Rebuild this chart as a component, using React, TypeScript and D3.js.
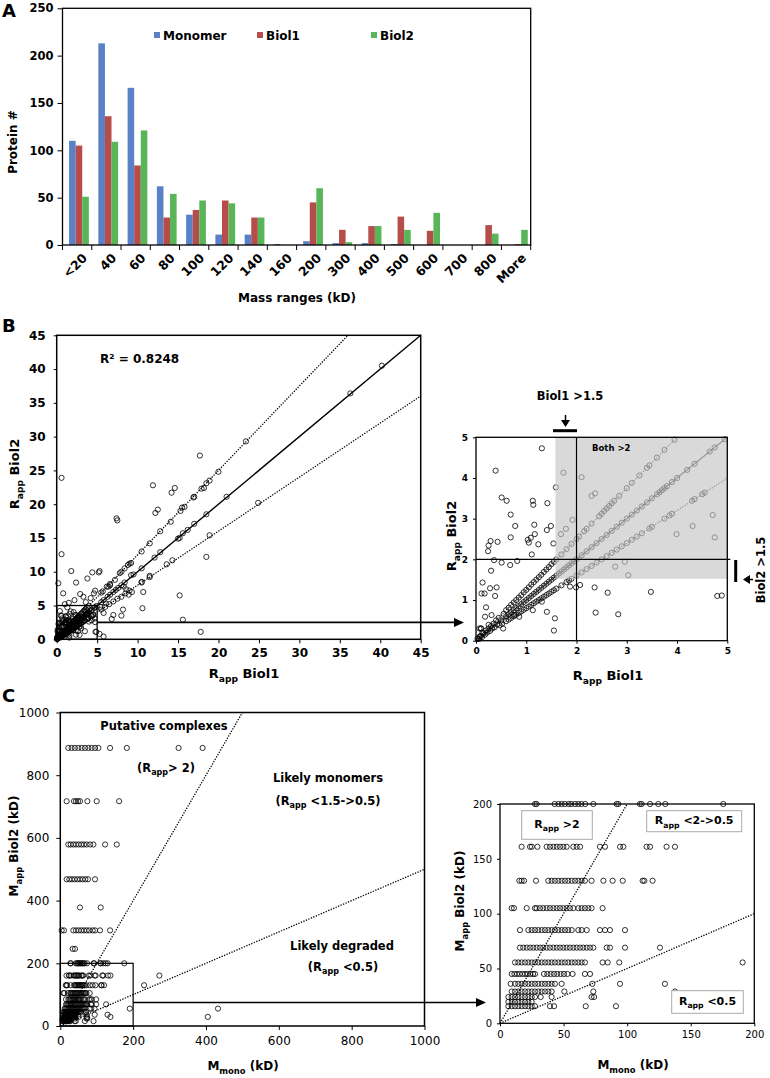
import React, { useEffect, useRef } from 'react';
import * as d3 from 'd3';

// ---- panel A: protein number per mass range
const massRanges = ['<20', '40', '60', '80', '100', '120', '140', '160', '200', '300', '400', '500', '600', '700', '800', 'More'];
const monomerCounts = [110, 213, 166, 62, 32, 11, 11, 1, 4, 2, 2, 1, 0, 0, 0, 0];
const biol1Counts = [105, 136, 84, 29, 37, 47, 29, 0, 45, 16, 20, 30, 15, 0, 21, 1];
const biol2Counts = [51, 109, 121, 54, 47, 44, 29, 0, 60, 3, 20, 16, 34, 0, 12, 16];
const seriesNames = ['Monomer', 'Biol1', 'Biol2'];
const seriesColors = ['#5a80c6', '#b54e4b', '#58b558'];
const countTicks = [0, 50, 100, 150, 200, 250];

// ---- panel B: Rapp Biol1 vs Rapp Biol2
const rappTicks = [0, 5, 10, 15, 20, 25, 30, 35, 40, 45];
const rappZoomTicks = [0, 1, 2, 3, 4, 5];
const rappGuideSlopes = [1.25, 1, 0.8];
const rappGuideDotted = [true, false, true];
const rappPoints: [number, number][] = [
  // near origin
  [0.03, 0.05], [0.06, 0.04], [0.08, 0.1], [0.1, 0.12], [0.12, 0.09], [0.15, 0.18], [0.18, 0.15], [0.2, 0.25],
  [0.22, 0.2], [0.25, 0.3], [0.28, 0.24], [0.3, 0.36], [0.32, 0.3], [0.35, 0.42], [0.37, 0.33], [0.4, 0.5],
  [0.42, 0.4], [0.45, 0.56], [0.47, 0.38], [0.5, 0.5], [0.52, 0.42], [0.55, 0.66], [0.07, 0.3], [0.1, 0.3],
  [0.25, 0.39], [0.18, 0.59], [0.31, 0.63], [0.2, 0.82], [0.54, 0.3], [0.13, 0.2],
  // along 1.25
  [0.6, 0.75], [0.65, 0.81], [0.7, 0.88], [0.75, 0.94], [0.8, 1.0], [0.85, 1.06], [0.9, 1.12], [0.95, 1.19],
  [1.0, 1.25], [1.05, 1.31], [1.1, 1.38], [1.15, 1.44], [1.2, 1.5], [1.25, 1.56], [1.3, 1.62], [1.35, 1.69],
  [1.4, 1.75], [1.45, 1.81], [1.5, 1.88], [1.55, 1.94], [1.6, 2.0], [1.7, 2.12], [1.8, 2.25], [1.9, 2.38],
  [2.0, 2.5], [2.05, 2.56], [2.15, 2.69], [2.2, 2.75], [2.3, 2.88], [2.45, 3.06], [2.5, 3.12], [2.55, 3.19],
  [2.6, 3.25], [2.65, 3.31], [2.7, 3.38], [2.75, 3.44], [2.85, 3.56], [3.0, 3.75], [3.1, 3.88], [3.25, 4.06],
  [3.4, 4.25], [3.45, 4.31], [3.6, 4.5], [3.75, 4.69], [3.95, 4.94],
  // along 1
  [0.6, 0.6], [0.65, 0.65], [0.7, 0.7], [0.75, 0.75], [0.8, 0.8], [0.85, 0.85], [0.9, 0.9], [0.95, 0.95],
  [1.0, 1.0], [1.05, 1.05], [1.1, 1.1], [1.15, 1.15], [1.2, 1.2], [1.25, 1.25], [1.3, 1.3], [1.35, 1.35],
  [1.4, 1.4], [1.45, 1.45], [1.5, 1.5], [1.55, 1.55], [1.6, 1.6], [1.65, 1.65], [1.7, 1.7], [1.75, 1.75],
  [1.8, 1.8], [1.85, 1.85], [1.9, 1.9], [1.95, 1.95], [2.0, 2.0], [2.1, 2.1], [2.2, 2.2], [2.3, 2.3],
  [2.4, 2.4], [2.5, 2.5], [2.6, 2.6], [2.7, 2.7], [2.8, 2.8], [2.9, 2.9], [3.0, 3.0], [3.1, 3.1], [3.2, 3.2],
  [3.3, 3.3], [3.4, 3.4], [3.5, 3.5], [3.6, 3.6], [3.65, 3.65], [3.7, 3.7], [3.75, 3.75], [3.8, 3.8],
  [3.9, 3.9], [4.0, 4.0], [4.2, 4.2], [4.35, 4.35], [4.65, 4.65], [4.75, 4.75], [4.95, 4.95],
  // along 0.8
  [0.6, 0.48], [0.65, 0.52], [0.7, 0.56], [0.75, 0.6], [0.8, 0.64], [0.85, 0.68], [0.9, 0.72], [0.95, 0.76],
  [1.0, 0.8], [1.05, 0.84], [1.1, 0.88], [1.15, 0.92], [1.2, 0.96], [1.25, 1.0], [1.3, 1.04], [1.35, 1.08],
  [1.4, 1.12], [1.45, 1.16], [1.5, 1.2], [1.55, 1.24], [1.6, 1.28], [1.7, 1.36], [1.8, 1.44], [1.85, 1.48],
  [1.9, 1.52], [2.0, 1.6], [2.1, 1.68], [2.2, 1.76], [2.3, 1.84], [2.4, 1.92], [2.5, 2.0], [2.6, 2.08],
  [2.7, 2.16], [2.8, 2.24], [2.9, 2.32], [3.0, 2.4], [3.1, 2.48], [3.2, 2.56], [3.3, 2.64], [3.45, 2.76],
  [3.5, 2.8], [3.75, 3.0], [3.85, 3.08], [3.9, 3.12], [4.3, 3.44], [4.35, 3.48], [4.5, 3.6], [4.55, 3.64],
  // scattered below 5
  [1.31, 4.73], [0.39, 4.18], [1.74, 4.13], [2.1, 4.02], [1.59, 3.77], [0.51, 3.52], [0.61, 3.44], [1.13, 3.44],
  [1.14, 3.34], [1.42, 3.38], [2.3, 3.56], [2.37, 3.62], [0.69, 3.1], [0.78, 2.82], [1.16, 2.85], [1.41, 2.72],
  [1.49, 2.82], [1.79, 2.75], [1.69, 2.62], [1.92, 2.97], [1.17, 2.62], [1.03, 2.48], [1.05, 2.41], [1.09, 2.53],
  [1.24, 2.37], [0.69, 2.54], [0.29, 2.45], [0.43, 2.43], [0.25, 2.34], [0.24, 2.2], [1.54, 2.39], [1.11, 2.12],
  [0.36, 1.98], [0.51, 1.92], [0.68, 1.86], [0.82, 1.96], [0.3, 1.72], [0.13, 1.43], [0.11, 1.16], [0.17, 1.16],
  [0.28, 1.29], [0.41, 1.31], [0.38, 1.1], [0.1, 0.3], [0.07, 0.1], [1.55, 0.25], [1.57, 0.55], [1.41, 0.71],
  [1.31, 0.96], [1.13, 0.75], [0.86, 0.59], [2.38, 0.69], [2.83, 0.65], [2.36, 1.31], [2.62, 1.18], [3.03, 1.61],
  [2.96, 1.94], [2.77, 1.82], [3.48, 1.2], [4.89, 1.11], [3.99, 2.62], [4.31, 2.82], [4.75, 2.54], [4.71, 3.09],
  [1.87, 1.33], [2.07, 1.37], [1.99, 1.31], [0.76, 0.63],
  // above 5 (main panel only)
  [0.6, 23.9], [0.6, 12.6], [0.2, 8.3], [0.8, 6.8], [1.8, 10.1], [2.4, 8.4], [2.9, 6.7], [1.5, 5.4], [3.8, 9],
  [5.2, 9.9], [5.3, 10.1], [4.75, 7.2], [4.6, 6.8], [6.2, 7.8], [7.4, 17.9], [7.5, 17.6], [11.9, 22.8],
  [12.2, 18.7], [12.5, 19.2], [14.2, 21.7], [14.6, 22.4], [17.7, 27.2], [20, 24.8], [18.9, 23.5], [18.5, 23.1],
  [17.9, 22.3], [18.2, 22.4], [17, 21.1], [16.9, 21], [15.8, 19.6], [15.5, 19.5], [15.3, 19], [15.2, 15],
  [15, 14.9], [15.6, 15.7], [16.2, 16.2], [17, 17.1], [18.5, 18.5], [21, 21.1], [23.4, 29.3], [36.3, 36.4],
  [40.2, 40.5], [24.9, 20.2], [18.9, 15.4], [18.5, 12.2], [14.3, 11.7], [13.6, 11.1], [12.8, 12.9], [12.1, 12.1],
  [12.8, 16], [14.1, 17.4], [10.5, 13], [11.5, 14.2], [11.5, 9.4], [10.5, 8.5], [10.7, 7], [10.6, 4.6],
  [15.2, 6.5], [15.6, 2.9], [17.8, 1.1], [9.2, 9.5], [9.5, 9.6], [9, 11.2], [9.2, 11.3], [8.3, 7.8], [8.6, 7.4],
  [8, 6.3], [8.9, 6.6], [9.3, 7], [8.2, 4.4], [8, 3.5], [7, 3.6], [6.8, 3], [7.8, 9.8], [8, 10], [7.2, 8.8],
  [6.4, 7.8], [6.6, 8], [5.7, 7.1], [5.5, 6.9], [6.1, 5.3], [5.8, 3.9], [5.4, 4.8], [4.8, 1.1], [5.3, 0.8],
  [5.8, 0.4], [6.6, 8.2], [8.4, 10.5], [8.8, 11], [5.5, 5.5], [5.8, 5.8], [6.3, 6.3], [6.6, 6.6], [7, 7],
  [7.3, 7.3], [7.6, 7.6], [8, 8], [8.4, 8.4], [10.5, 10.5], [5.5, 4.4], [6, 4.8], [6.5, 5.2], [7, 5.6],
  [7.5, 6], [8.5, 6.8], [9, 7.2], [10.5, 8.4], [11.5, 9.2], [4.4, 9.9], [3.3, 6.3], [2.2, 5.8], [1, 5.2],
  [3.6, 5.5], [4.2, 6.1],
];

// ---- panel C: Mmono vs Mapp Biol2 (kD), grouped by apparent mass level
const mappTicks = [0, 200, 400, 600, 800, 1000];
const mappZoomTicks = [0, 50, 100, 150, 200];
const mappGuideSlopes = [2, 0.5];
const mappLevels = [887, 717, 579, 468, 378, 305, 246, 200, 161, 130, 105, 85, 69, 55.5, 45, 36, 29, 24, 19.5, 15.6];
const mmonoByLevel = [
  [22, 31, 40, 49.5, 58.7, 67.9, 77, 86, 95.4, 104.6, 136.7, 182.6, 324.8, 390.8],
  [17.4, 37.6, 43, 48.6, 54, 74.3, 100, 161.5],
  [22, 28.4, 35.8, 43, 50.5, 57.8, 65, 72.5, 81.7, 90.8, 123, 155],
  [17.4, 24.8, 32, 39.4, 46.8, 54, 61.5, 68.8, 76, 95.4],
  [54, 111],
  [3.7, 10, 35.8, 43, 50.5, 57.8, 65, 72.5, 79.8, 89, 95.4, 109, 136.7],
  [34, 40.4],
  [27.5, 28.8, 43, 46, 48.5, 51, 54, 56, 59, 61.6, 64, 67, 73.4, 91.7, 93, 110, 111.4, 118, 124.5, 130, 175.6],
  [17, 23.6, 25, 29.4, 36.7, 39.3, 42, 44.6, 47.2, 49.8, 52.4, 57.7, 60.3, 63, 78.6, 82.6, 94.4, 97, 115.3, 118, 131, 137.6, 272],
  [15.2, 17, 18.9, 28.3, 38, 40.6, 43.2, 45.9, 48.5, 51.1, 53.7, 56.4, 59, 61.6, 64.2, 66.8, 72, 81.3, 88.6, 96.5, 112.2, 113.5, 120, 230],
  [9.2, 11, 21, 27.5, 28.8, 31.4, 34, 36.7, 39.3, 42, 44.6, 47.2, 49.8, 52.4, 55, 57.7, 61.6, 64.2, 66.8, 69.5, 72, 80.7],
  [15.7, 22.3, 24.9, 27.5, 30.1, 32.8, 35.4, 38, 40.6, 43.2, 45.9, 48.5, 51.1, 53.7, 56.4, 61.6, 64.2, 68.2, 78.6, 82.6, 86.5, 98.3],
  [15.7, 18.3, 21, 23.6, 26.2, 28.8, 31.5, 34, 36.7, 39.3, 42, 44.6, 47.2, 49.8, 52.4, 55, 57.7, 60.3, 63, 65.5, 68.2, 70.8, 73.4, 83.9, 86.5, 98.3, 125.8],
  [11.8, 14.4, 17, 19.7, 22.3, 24.9, 27.5, 30.1, 32.8, 35.4, 38, 40.6, 43.2, 45.9, 48.5, 51.1, 53.7, 56.4, 59, 61.6, 64.2, 66.8, 80.7, 84.7, 93.8, 190.8, 433],
  [9.2, 11.3, 13.4, 15.5, 17.6, 19.7, 21.8, 23.9, 26, 27.5, 34.6, 37.2, 39.8, 42.5, 45, 47.7, 50.3, 53, 57.1, 66.8, 70.8],
  [8.4, 11.8, 14.4, 17, 19.7, 22.3, 24.9, 27.5, 30.1, 32.8, 35.4, 38, 40.6, 43.2, 48.5, 72.6, 94.4, 129.7],
  [9.2, 11.8, 14.4, 17, 19.7, 22.3, 24.9, 27.5, 30.1, 32.8, 35.4, 38, 40.6, 50.6, 73.4, 137.6, 405],
  [6.6, 9.2, 11.8, 14.4, 17, 19.7, 22.3, 24.9, 27.5, 32, 40.6, 72, 74],
  [6.6, 9.2, 11.8, 14.4, 17, 19.7, 22.3, 24.9],
  [6.6, 9.2, 11.8, 14.4, 17, 19.7, 22.3, 24.9, 27.5, 39.3, 42.5, 67.4, 91.2],
];

const FONT = 'DejaVu Sans, Verdana, sans-serif';
const fmt = d3.format('d');

const styleAxis = (g, size, weight) => {
  g.select('.domain').remove();
  g.selectAll('text').attr('font-family', FONT).attr('font-size', size).attr('font-weight', weight).attr('fill', '#000');
  g.selectAll('line').attr('stroke', '#000');
};

// text with a subscript part, e.g. R_app Biol1
const subLabel = (g, x, y, main, sub, rest, size, rotate = 0) => {
  const t = g.append('text')
    .attr('transform', `translate(${x},${y}) rotate(${rotate})`)
    .attr('text-anchor', 'middle')
    .attr('font-family', FONT).attr('font-weight', 'bold').attr('font-size', size)
    .style('white-space', 'pre');
  t.append('tspan').text(main);
  t.append('tspan').attr('font-size', size * 0.7).attr('dy', size * 0.3).text(sub);
  t.append('tspan').attr('dy', -size * 0.3).text(rest);
  return t;
};

const label = (g, x, y, txt, size, opts: any = {}) =>
  g.append('text')
    .attr('transform', `translate(${x},${y}) rotate(${opts.rotate || 0})`)
    .attr('text-anchor', opts.anchor || 'middle')
    .attr('font-family', FONT).attr('font-weight', opts.weight || 'bold').attr('font-size', size)
    .text(txt);

const dots = (g, pts, x, y) =>
  g.append('g').selectAll('circle').data(pts).join('circle')
    .attr('cx', d => x(d[0])).attr('cy', d => y(d[1])).attr('r', 2.6)
    .attr('fill', 'none').attr('stroke', '#000').attr('stroke-width', 0.8);

const guide = (g, slope, max, x, y, dotted, color = '#000') => {
  const xe = Math.min(max, max / slope);
  g.append('line')
    .attr('x1', x(0)).attr('y1', y(0)).attr('x2', x(xe)).attr('y2', y(xe * slope))
    .attr('stroke', color).attr('stroke-width', dotted ? 1.3 : 1.4)
    .attr('stroke-dasharray', dotted ? '1.3 1.4' : null);
};

const frame = (g, x0, y0, x1, y1, w = 1.3) =>
  g.append('rect').attr('x', x0).attr('y', y1).attr('width', x1 - x0).attr('height', y0 - y1)
    .attr('fill', 'none').attr('stroke', '#000').attr('stroke-width', w);

const arrowTo = (g, x1, y, x2) => {
  g.append('line').attr('x1', x1).attr('y1', y).attr('x2', x2 - 8).attr('y2', y).attr('stroke', '#000').attr('stroke-width', 1.6);
  g.append('path').attr('d', `M${x2},${y}L${x2 - 10},${y - 4.5}L${x2 - 10},${y + 4.5}Z`).attr('fill', '#000');
};

const drawBars = (svg) => {
  const g = svg.append('g');
  const x = d3.scaleBand().domain(massRanges).range([62.5, 530.7]);
  const y = d3.scaleLinear().domain([0, 250]).range([245, 8.3]);
  const bw = x.bandwidth();
  const inner = d3.scaleBand().domain(seriesNames).range([0.225 * bw, 0.9 * bw]);
  const counts = [monomerCounts, biol1Counts, biol2Counts];

  seriesNames.forEach((name, i) => {
    g.append('g').selectAll('rect').data(massRanges).join('rect')
      .attr('x', d => x(d) + inner(name))
      .attr('y', (d, j) => y(counts[i][j]))
      .attr('width', inner.bandwidth())
      .attr('height', (d, j) => y(0) - y(counts[i][j]))
      .attr('fill', seriesColors[i]);
  });
  frame(g, 62.5, 245, 530.7, 8.3);

  const ya = g.append('g').attr('transform', 'translate(62.5,0)')
    .call(d3.axisLeft(y).tickValues(countTicks).tickFormat(fmt).tickSize(5).tickPadding(4));
  styleAxis(ya, 11.5, 'bold');

  // tick marks at category boundaries
  g.append('g').selectAll('line').data(d3.range(massRanges.length + 1)).join('line')
    .attr('x1', i => 62.5 + i * bw).attr('x2', i => 62.5 + i * bw)
    .attr('y1', 245).attr('y2', 250).attr('stroke', '#000');
  massRanges.forEach(c => {
    label(g, x(c) + bw / 2 + 6, 254, c, 12.5, { rotate: -45, anchor: 'end' }).attr('dy', '0.55em');
  });

  const legendX = [154, 257, 371];
  seriesNames.forEach((name, i) => {
    g.append('rect').attr('x', legendX[i]).attr('y', 32).attr('width', 6).attr('height', 6).attr('fill', seriesColors[i]);
    label(g, legendX[i] + 9, 40, name, 12, { anchor: 'start' });
  });

  label(g, 17, 142, 'Protein #', 12, { rotate: -90 });
  label(g, 297, 302, 'Mass ranges (kD)', 12);
  label(g, 2, 17, 'A', 18, { anchor: 'start' });
};

const drawRapp = (svg) => {
  const g = svg.append('g');
  // main panel
  const x = d3.scaleLinear().domain([0, 45]).range([56.7, 420.7]);
  const y = d3.scaleLinear().domain([0, 45]).range([639.3, 335.3]);
  rappGuideSlopes.forEach((s, i) => guide(g, s, 45, x, y, rappGuideDotted[i]));
  dots(g, rappPoints, x, y);
  frame(g, x(0), y(0), x(45), y(45), 1.5);
  g.append('rect').attr('x', x(0)).attr('y', y(5)).attr('width', x(5) - x(0)).attr('height', y(0) - y(5))
    .attr('fill', 'none').attr('stroke', '#000').attr('stroke-width', 1.3);
  arrowTo(g, x(5), y(2.5), 464);
  const xa = g.append('g').attr('transform', `translate(0,${y(0)})`)
    .call(d3.axisBottom(x).tickValues(rappTicks).tickFormat(fmt).tickSize(4).tickPadding(5));
  styleAxis(xa, 12, 'bold');
  const ya = g.append('g').attr('transform', `translate(${x(0)},0)`)
    .call(d3.axisLeft(y).tickValues(rappTicks).tickFormat(fmt).tickSize(3).tickPadding(8));
  styleAxis(ya, 12, 'bold');
  label(g, 100, 363, 'R² = 0.8248', 12, { anchor: 'start' });
  subLabel(g, 244, 678, 'R', 'app', ' Biol1', 13);
  subLabel(g, 19, 474, 'R', 'app', ' Biol2', 13, -90);
  label(g, 2, 332, 'B', 18, { anchor: 'start' });

  // zoomed panel 0-5
  const zx = d3.scaleLinear().domain([0, 5]).range([476, 727.3]);
  const zy = d3.scaleLinear().domain([0, 5]).range([640.7, 437.3]);
  g.append('rect').attr('x', zx(0)).attr('y', zy(5)).attr('width', zx(5) - zx(0)).attr('height', zy(0) - zy(5)).attr('fill', '#fff');
  rappGuideSlopes.forEach((s, i) => guide(g, s, 5, zx, zy, rappGuideDotted[i], '#555'));
  dots(g, rappPoints.filter(p => p[0] <= 5.05 && p[1] <= 5.05), zx, zy);
  g.append('rect').attr('x', zx(1.58)).attr('y', zy(5)).attr('width', zx(5) - zx(1.58)).attr('height', zy(1.52) - zy(5))
    .attr('fill', '#c4c4c4').attr('opacity', 0.65);
  g.append('line').attr('x1', zx(2)).attr('x2', zx(2)).attr('y1', zy(0)).attr('y2', zy(5)).attr('stroke', '#000').attr('stroke-width', 1.2);
  g.append('line').attr('x1', zx(0)).attr('x2', zx(5) + 3).attr('y1', zy(2)).attr('y2', zy(2)).attr('stroke', '#000').attr('stroke-width', 1.2);
  frame(g, zx(0), zy(0), zx(5), zy(5), 1.3);
  const zxa = g.append('g').attr('transform', `translate(0,${zy(0)})`)
    .call(d3.axisBottom(zx).tickValues(rappZoomTicks).tickFormat(fmt).tickSize(3).tickPadding(4));
  styleAxis(zxa, 9, 'bold');
  const zya = g.append('g').attr('transform', `translate(${zx(0)},0)`)
    .call(d3.axisLeft(zy).tickValues(rappZoomTicks).tickFormat(fmt).tickSize(3).tickPadding(5));
  styleAxis(zya, 9, 'bold');
  label(g, 592, 451, 'Both >2', 8.5, { anchor: 'start' });
  subLabel(g, 608, 680, 'R', 'app', ' Biol1', 13);
  subLabel(g, 456, 536, 'R', 'app', ' Biol2', 13, -90);

  // threshold annotations
  label(g, 570, 400, 'Biol1 >1.5', 11.5);
  g.append('line').attr('x1', 565.5).attr('x2', 565.5).attr('y1', 415).attr('y2', 421).attr('stroke', '#000').attr('stroke-width', 1.5);
  g.append('path').attr('d', 'M565.5,427L561,420L570,420Z').attr('fill', '#000');
  g.append('line').attr('x1', 553).attr('x2', 577).attr('y1', 430.7).attr('y2', 430.7).attr('stroke', '#000').attr('stroke-width', 3);
  label(g, 765, 570, 'Biol2 >1.5', 11.5, { rotate: -90 });
  g.append('line').attr('x1', 735.7).attr('x2', 735.7).attr('y1', 560).attr('y2', 582).attr('stroke', '#000').attr('stroke-width', 3);
  g.append('path').attr('d', 'M743,579.5L750,575L750,584Z').attr('fill', '#000');
  g.append('line').attr('x1', 749).attr('x2', 753).attr('y1', 579.5).attr('y2', 579.5).attr('stroke', '#000').attr('stroke-width', 1.5);
};

const drawMapp = (svg) => {
  const g = svg.append('g');
  const pts = mappLevels.flatMap((lv, i) => mmonoByLevel[i].map(m => [m, lv]));

  // main panel
  const x = d3.scaleLinear().domain([0, 1000]).range([60.3, 424.5]);
  const y = d3.scaleLinear().domain([0, 1000]).range([1026, 712.5]);
  mappGuideSlopes.forEach(s => guide(g, s, 1000, x, y, true));
  dots(g, pts, x, y);
  frame(g, x(0), y(0), x(1000), y(1000), 1.5);
  g.append('rect').attr('x', x(0)).attr('y', y(200)).attr('width', x(200) - x(0)).attr('height', y(0) - y(200))
    .attr('fill', 'none').attr('stroke', '#000').attr('stroke-width', 1.2);
  arrowTo(g, x(200), y(75), 486);
  const xa = g.append('g').attr('transform', `translate(0,${y(0)})`)
    .call(d3.axisBottom(x).tickValues(mappTicks).tickFormat(fmt).tickSize(4).tickPadding(6));
  styleAxis(xa, 12, 'normal');
  const ya = g.append('g').attr('transform', `translate(${x(0)},0)`)
    .call(d3.axisLeft(y).tickValues(mappTicks).tickFormat(fmt).tickSize(4).tickPadding(7));
  styleAxis(ya, 12, 'normal');
  label(g, 164, 730, 'Putative complexes', 11.5);
  subLabel(g, 166, 772, '(R', 'app', '> 2)', 11.5);
  label(g, 328, 782, 'Likely monomers', 11.5);
  subLabel(g, 328, 805, '(R', 'app', ' <1.5->0.5)', 11.5);
  label(g, 342, 950, 'Likely degraded', 11.5);
  subLabel(g, 343, 971, '(R', 'app', ' <0.5)', 11.5);
  subLabel(g, 243, 1070, 'M', 'mono', ' (kD)', 12);
  subLabel(g, 18, 846, 'M', 'app', ' Biol2 (kD)', 12, -90);
  label(g, 2, 702, 'C', 18, { anchor: 'start' });

  // zoomed panel 0-200
  const zx = d3.scaleLinear().domain([0, 200]).range([500, 754.3]);
  const zy = d3.scaleLinear().domain([0, 200]).range([1023.3, 804]);
  mappGuideSlopes.forEach(s => guide(g, s, 200, zx, zy, true));
  dots(g, pts.filter(p => p[0] <= 201 && p[1] <= 201), zx, zy);
  frame(g, zx(0), zy(0), zx(200), zy(200), 1.3);
  const zxa = g.append('g').attr('transform', `translate(0,${zy(0)})`)
    .call(d3.axisBottom(zx).tickValues(mappZoomTicks).tickFormat(fmt).tickSize(3).tickPadding(5));
  styleAxis(zxa, 10, 'normal');
  const zya = g.append('g').attr('transform', `translate(${zx(0)},0)`)
    .call(d3.axisLeft(zy).tickValues(mappZoomTicks).tickFormat(fmt).tickSize(3).tickPadding(5));
  styleAxis(zya, 10, 'normal');

  const boxes = [
    { x: 521.7, y: 810.7, w: 70.6, h: 28.6, rest: ' >2' },
    { x: 646.7, y: 810.7, w: 95, h: 21, rest: ' <2->0.5' },
    { x: 671.7, y: 990.7, w: 71.6, h: 22.6, rest: ' <0.5' },
  ];
  boxes.forEach(b => {
    g.append('rect').attr('x', b.x).attr('y', b.y).attr('width', b.w).attr('height', b.h)
      .attr('fill', '#fff').attr('stroke', '#aaa').attr('stroke-width', 1);
    subLabel(g, b.x + b.w / 2, b.y + b.h / 2 + 3, 'R', 'app', b.rest, 11);
  });
  subLabel(g, 633, 1069, 'M', 'mono', ' (kD)', 12);
  subLabel(g, 464, 901, 'M', 'app', ' Biol2 (kD)', 12, -90);
};

const App = () => {
  const svgRef = useRef(null);

  useEffect(() => {
    const svg = d3.select(svgRef.current);
    svg.selectAll('*').remove();
    drawBars(svg);
    drawRapp(svg);
    drawMapp(svg);
  }, []);

  return (
    <svg ref={svgRef} width={770} height={1078} style={{ position: 'absolute', left: 0, top: 0, background: '#fff' }}></svg>
  );
};

export default App;
